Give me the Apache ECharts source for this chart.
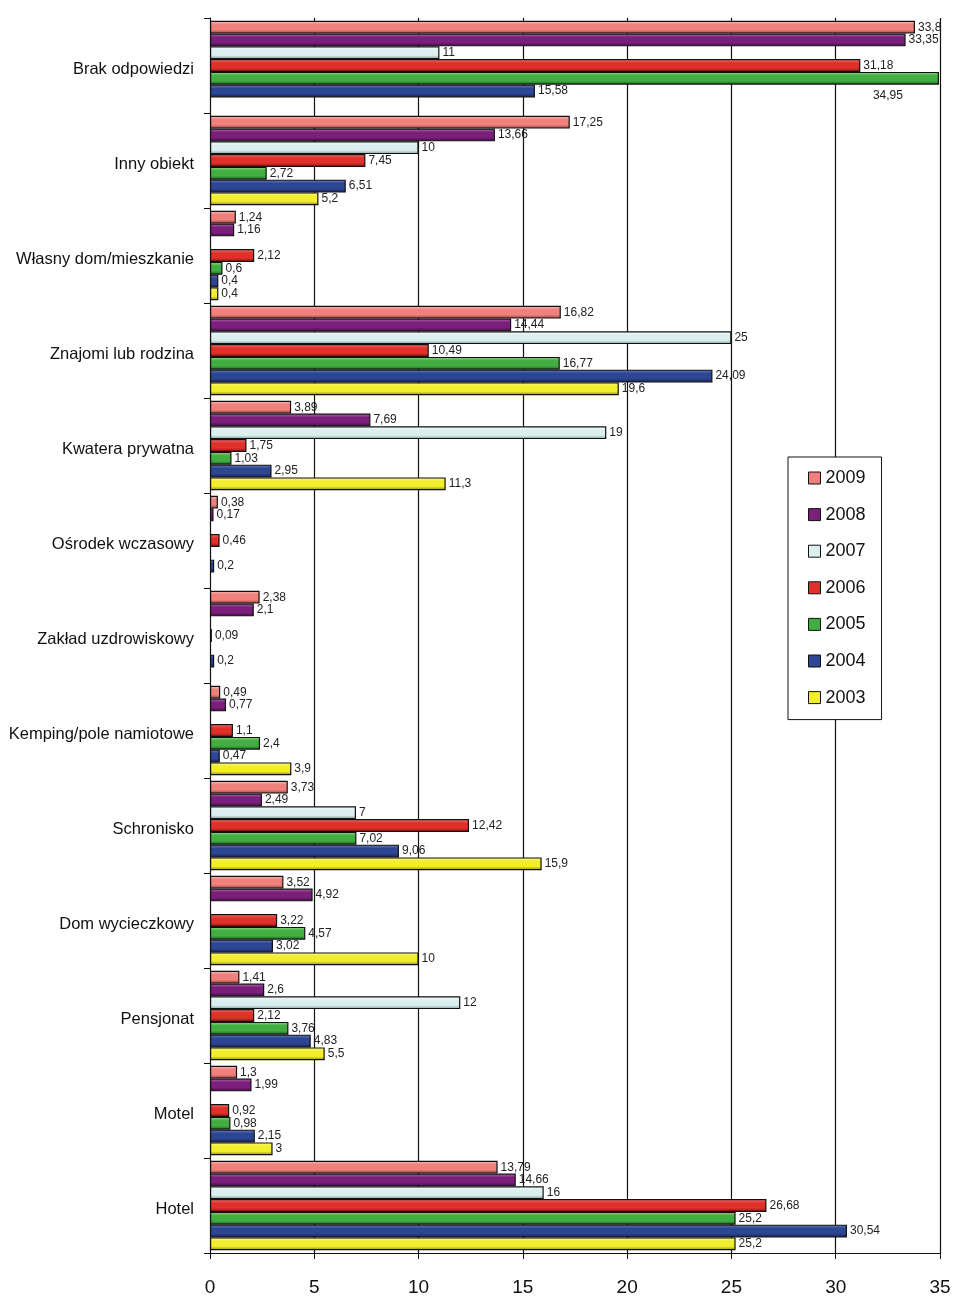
<!DOCTYPE html>
<html>
<head>
<meta charset="utf-8">
<script src="https://cdn.jsdelivr.net/npm/echarts@6/dist/echarts.min.js"></script>
<style>html,body{margin:0;padding:0;background:#fff}#c{width:969px;height:1311px}</style>
</head>
<body>
<div id="c"></div>
<script>
const categories = ['Brak odpowiedzi','Inny obiekt','Własny dom/mieszkanie','Znajomi lub rodzina','Kwatera prywatna','Ośrodek wczasowy','Zakład uzdrowiskowy','Kemping/pole namiotowe','Schronisko','Dom wycieczkowy','Pensjonat','Motel','Hotel'];
const years = ['2009','2008','2007','2006','2005','2004','2003'];
const v2009 = [33.8, 17.25, 1.24, 16.82, 3.89, 0.38, 2.38, 0.49, 3.73, 3.52, 1.41, 1.3, 13.79];
const v2008 = [33.35, 13.66, 1.16, 14.44, 7.69, 0.17, 2.1, 0.77, 2.49, 4.92, 2.6, 1.99, 14.66];
const v2007 = [11, 10, null, 25, 19, null, null, null, 7, null, 12, null, 16];
const v2006 = [31.18, 7.45, 2.12, 10.49, 1.75, 0.46, 0.09, 1.1, 12.42, 3.22, 2.12, 0.92, 26.68];
const v2005 = [34.95, 2.72, 0.6, 16.77, 1.03, null, null, 2.4, 7.02, 4.57, 3.76, 0.98, 25.2];
const v2004 = [15.58, 6.51, 0.4, 24.09, 2.95, 0.2, 0.2, 0.47, 9.06, 3.02, 4.83, 2.15, 30.54];
const v2003 = [null, 5.2, 0.4, 19.6, 11.3, null, null, 3.9, 15.9, 10, 5.5, 3, 25.2];
const xTicks = [0, 5, 10, 15, 20, 25, 30, 35];

const values = [v2009, v2008, v2007, v2006, v2005, v2004, v2003];
const colors = ['#f0807c', '#7c1f7c', '#dcefef', '#e0302a', '#42ae41', '#2c4694', '#f2ee2e'];
const light = ['#fbbcb9', '#b06ab0', '#f7fdfd', '#f4807a', '#8edb8c', '#6c82c4', '#fdfb90'];
const dark = ['#8e4240', '#3e0a3e', '#7f9a9a', '#8a1410', '#1d661b', '#121f55', '#8e8a10'];
const FONT = '"Liberation Sans Narrow", "Arial Narrow", "Liberation Sans", Arial, sans-serif';

function fmt(v) { return String(v).replace('.', ','); }

const series = years.map((y, i) => ({
  name: y,
  type: 'bar',
  barGap: '0%',
  barCategoryGap: '6%',
  data: values[i].map((v, j) => {
    if (v === null) return null;
    const item = { value: v };
    if (i === 4 && j === 0) {
      item.label = { position: 'insideBottomRight', offset: [-33, 20] };
    }
    return item;
  }),
  itemStyle: {
    color: {
      type: 'linear', x: 0, y: 0, x2: 0, y2: 1,
      colorStops: [
        { offset: 0, color: light[i] },
        { offset: 0.3, color: colors[i] },
        { offset: 0.7, color: colors[i] },
        { offset: 1, color: dark[i] }
      ]
    },
    borderColor: '#111',
    borderWidth: 1.2
  },
  label: {
    show: true,
    position: 'right',
    distance: 3,
    fontFamily: FONT,
    fontSize: 12,
    color: '#222',
    formatter: p => fmt(p.value)
  }
}));

const chart = echarts.init(document.getElementById('c'), null, { renderer: 'canvas' });
chart.setOption({
  animation: false,
  backgroundColor: '#fff',
  grid: { left: 210, right: 29, top: 18, bottom: 58, containLabel: false },
  legend: {
    orient: 'vertical',
    left: 788,
    top: 457,
    padding: [12, 16, 13, 20],
    itemGap: 18.6,
    itemWidth: 12,
    itemHeight: 12,
    icon: 'rect',
    backgroundColor: '#fff',
    borderColor: '#111',
    borderWidth: 1,
    borderRadius: 0,
    textStyle: { fontFamily: FONT, fontSize: 18, color: '#111' },
    data: years.map((y, i) => ({ name: y, itemStyle: { color: colors[i], borderColor: '#111', borderWidth: 1 } }))
  },
  xAxis: {
    type: 'value',
    min: 0, max: 35, interval: 5,
    axisLine: { show: true, lineStyle: { color: '#111', width: 1 } },
    axisTick: { show: true, length: 6, lineStyle: { color: '#111' } },
    axisLabel: { fontFamily: FONT, fontSize: 19, color: '#111', margin: 25,
      formatter: v => xTicks.includes(v) ? String(v) : '' },
    splitLine: { show: true, lineStyle: { color: '#111', width: 1.2 } }
  },
  yAxis: {
    type: 'category',
    inverse: true,
    data: categories,
    axisLine: { show: true, lineStyle: { color: '#111', width: 1 } },
    axisTick: { show: true, length: 6, lineStyle: { color: '#111' } },
    axisLabel: { fontFamily: FONT, fontSize: 16.5, color: '#111', margin: 16, verticalAlign: 'top', lineHeight: 7 }
  },
  series: series
});
</script>
</body>
</html>
